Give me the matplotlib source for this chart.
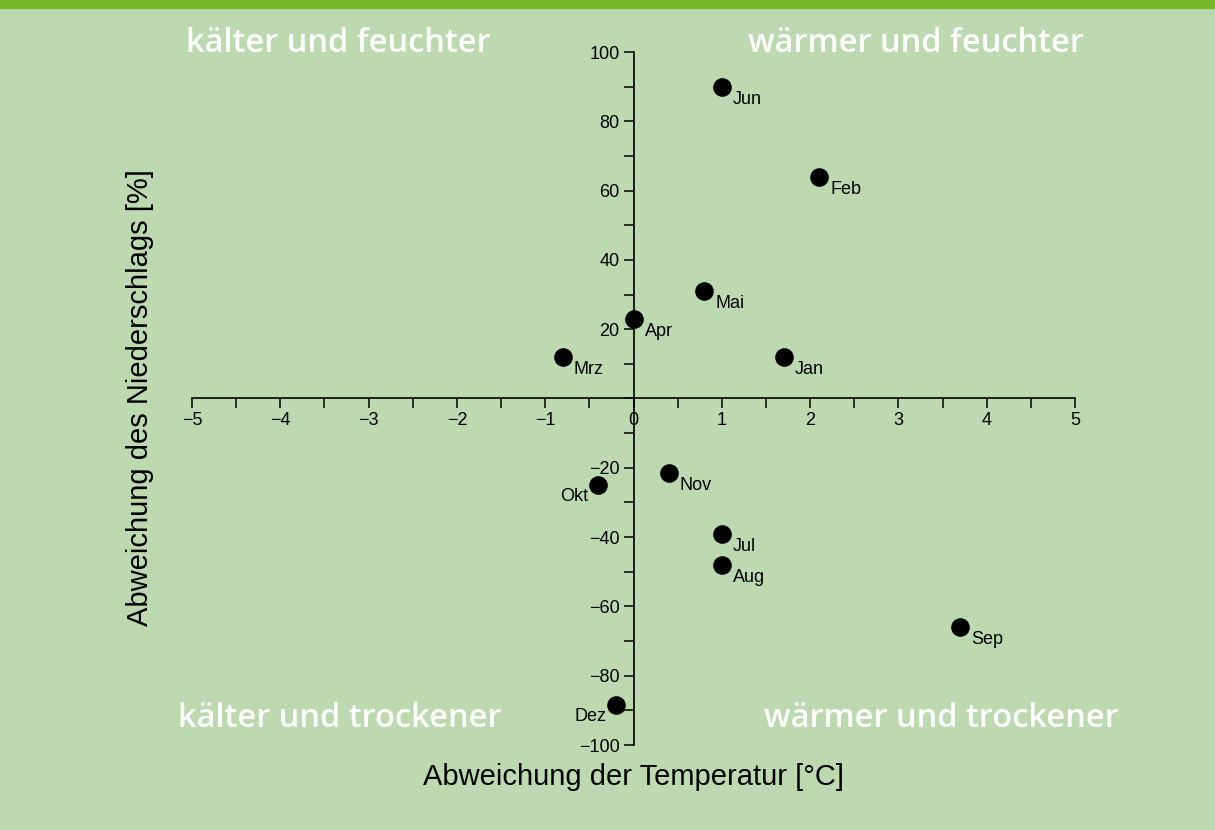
import matplotlib
matplotlib.use("Agg")
import matplotlib.pyplot as plt
from matplotlib.ticker import MultipleLocator, FuncFormatter

months = ["Jan", "Feb", "Mrz", "Apr", "Mai", "Jun", "Jul", "Aug", "Sep", "Okt", "Nov", "Dez"]
temp_dev = [1.7, 2.1, -0.8, 0.0, 0.8, 1.0, 1.0, 1.0, 3.7, -0.4, 0.4, -0.2]
precip_dev = [12, 64, 12, 23, 31, 90, -39, -48, -66, -25, -21.5, -88.5]
left_label_months = ["Okt", "Dez"]

quadrants = ["kälter und feuchter", "wärmer und feuchter", "kälter und trockener", "wärmer und trockener"]
x_label = "Abweichung der Temperatur [°C]"
y_label = "Abweichung des Niederschlags [%]"

bg = "#bdd9b0"
plt.rcParams['font.family'] = ['Liberation Sans', 'DejaVu Sans']

fig = plt.figure(figsize=(12.15, 8.30), dpi=100, facecolor=bg)
ax = fig.add_axes([192/1215, 1-745/830, (1075-192)/1215, (745-52)/830])
ax.set_facecolor(bg)

ax.scatter(temp_dev, precip_dev, s=180, color="black", zorder=3, linewidths=0)
for m, x, y in zip(months, temp_dev, precip_dev):
    if m in left_label_months:
        ax.annotate(m, (x, y), xytext=(-7, -8), textcoords="offset points",
                    ha="right", va="center", fontsize=13)
    else:
        ax.annotate(m, (x, y), xytext=(8, -9), textcoords="offset points",
                    ha="left", va="center", fontsize=13)

ax.set_xlim(-5, 5)
ax.set_ylim(-100, 100)
for s in ["top", "right"]:
    ax.spines[s].set_visible(False)
ax.spines["left"].set_position(("data", 0))
ax.spines["bottom"].set_position(("data", 0))
ax.spines["left"].set_linewidth(1.2)
ax.spines["bottom"].set_linewidth(1.2)

ax.xaxis.set_major_locator(MultipleLocator(1))
ax.xaxis.set_minor_locator(MultipleLocator(0.5))
ax.yaxis.set_major_locator(MultipleLocator(20))
ax.yaxis.set_minor_locator(MultipleLocator(10))
ax.yaxis.set_major_formatter(FuncFormatter(lambda v, p: "" if abs(v) < 1e-9 else f"{int(round(v))}".replace("-", "\u2212")))
ax.xaxis.set_major_formatter(FuncFormatter(lambda v, p: f"{int(round(v))}".replace("-", "\u2212")))
ax.tick_params(axis="both", which="both", direction="out", length=7, width=1.1, labelsize=13, colors="black", pad=3)

fig.text(633/1215, 1-777/830, x_label, ha="center", va="center", fontsize=21)
fig.text(140/1215, 1-398/830, y_label, ha="center", va="center", fontsize=21, rotation=90)

qpos = [(338, 43), (916, 43), (340, 718), (941, 718)]
for t, (px, py) in zip(quadrants, qpos):
    fig.text(px/1215, 1-py/830, t, ha="center", va="center", fontsize=23.5,
             color="white", fontweight=600, family=["Open Sans", "DejaVu Sans"])

fig.patches.append(plt.Rectangle((0, 1-8/830), 1, 8/830, transform=fig.transFigure,
                                 color="#78b72a", zorder=5))

fig.savefig("out.png", dpi=100, facecolor=bg)
